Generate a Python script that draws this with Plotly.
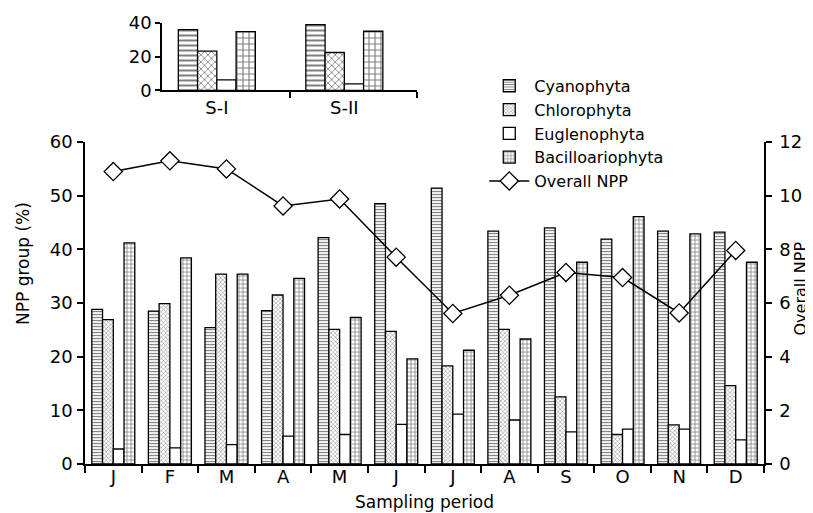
import plotly.graph_objects as go

months = ["J", "F", "M", "A", "M", "J", "J", "A", "S", "O", "N", "D"]
cyanophyta = [28.8, 28.5, 25.4, 28.6, 42.2, 48.5, 51.4, 43.4, 44.0, 41.9, 43.4, 43.2]
chlorophyta = [26.9, 29.9, 35.4, 31.5, 25.1, 24.7, 18.3, 25.1, 12.5, 5.5, 7.3, 14.6]
euglenophyta = [2.8, 3.0, 3.6, 5.2, 5.5, 7.4, 9.3, 8.2, 6.0, 6.5, 6.5, 4.5]
bacillariophyta = [41.2, 38.4, 35.4, 34.6, 27.3, 19.6, 21.2, 23.3, 37.6, 46.1, 42.9, 37.6]
overall_npp = [10.9, 11.3, 11.0, 9.62, 9.88, 7.71, 5.61, 6.29, 7.14, 6.95, 5.63, 7.96]

sites = ["S-I", "S-II"]
site_cyano = [36.1, 39.0]
site_chloro = [23.3, 22.5]
site_eugleno = [6.3, 3.9]
site_bacillo = [34.9, 35.1]

FONT = "DejaVu Sans"
xm = list(range(len(months)))
xs = [i - 0.07 for i in range(len(sites))]

groups = [
    ("Cyanophyta", cyanophyta, site_cyano, dict(shape="-", size=3, solidity=0.4)),
    ("Chlorophyta", chlorophyta, site_chloro, dict(shape="x", size=3, solidity=0.3)),
    ("Euglenophyta", euglenophyta, site_eugleno, dict(shape="")),
    ("Bacilloariophyta", bacillariophyta, site_bacillo, dict(shape="+", size=4, solidity=0.35)),
]

fig = go.Figure()
wm = 0.19
ws = 0.151
for k, (name, vals, svals, pat) in enumerate(groups):
    p = dict(pat, fgcolor="black", bgcolor="white")
    fig.add_trace(go.Bar(
        x=xm, y=vals, name=name, width=wm, offset=-2 * wm + k * wm,
        marker=dict(color="white", line=dict(color="black", width=1.3), pattern=p),
        xaxis="x", yaxis="y", legendrank=k + 1,
    ))
    p2 = dict(p)
    if "size" in p2:
        p2["size"] = p2["size"] + 2
    fig.add_trace(go.Bar(
        x=xs, y=svals, name=name, width=ws, offset=-2 * ws + k * ws,
        marker=dict(color="white", line=dict(color="black", width=1.3), pattern=p2),
        xaxis="x3", yaxis="y3", showlegend=False,
    ))

fig.add_trace(go.Scatter(
    x=xm, y=overall_npp, name="Overall NPP", mode="lines+markers",
    line=dict(color="black", width=1.5),
    marker=dict(symbol="diamond", size=14, color="white", line=dict(color="black", width=1.3)),
    xaxis="x", yaxis="y2", legendrank=5,
))

axis_common = dict(showline=True, linecolor="black", linewidth=1.5, showgrid=False,
                   zeroline=False, tickcolor="black", tickfont=dict(size=18, color="black"))

fig.update_layout(
    width=813, height=513,
    margin=dict(l=77, r=57, t=15, b=57, autoexpand=False),
    paper_bgcolor="white", plot_bgcolor="white",
    font=dict(family=FONT, color="black", size=16),
    barmode="overlay",
    xaxis=dict(
        **axis_common, domain=[0, 1], range=[-0.5, 11.5],
        tickmode="array", tickvals=xm, ticktext=months, ticks="",
        ticklabelstandoff=-4,
        minor=dict(tickmode="array", tickvals=[i - 0.5 for i in range(13)],
                   ticks="outside", ticklen=7, tickcolor="black", tickwidth=1.5),
        title=dict(text="Sampling period", font=dict(size=17), standoff=10),
        anchor="y",
    ),
    yaxis=dict(
        **axis_common, domain=[0, 0.73], range=[0, 60], dtick=10,
        ticks="outside", ticklen=6, tickwidth=1.5, ticklabelstandoff=1,
        anchor="x",
    ),
    yaxis2=dict(
        **axis_common, overlaying="y", side="right", range=[0, 12], dtick=2,
        ticks="outside", ticklen=6, tickwidth=1.5, ticklabelstandoff=4,
        anchor="x",
    ),
    xaxis3=dict(
        **axis_common, domain=[0.1134, 0.489], range=[-0.5, 1.5],
        tickmode="array", tickvals=xs, ticktext=sites, ticks="",
        minor=dict(tickmode="array", tickvals=[0.5, 1.5],
                   ticks="outside", ticklen=6, tickcolor="black", tickwidth=1.5),
        anchor="y3",
    ),
    yaxis3=dict(
        **axis_common, domain=[0.847, 1.0], range=[0, 40], tickvals=[0, 20, 40],
        ticks="outside", ticklen=5, tickwidth=1.5, anchor="x3",
    ),
    legend=dict(x=0.588, y=0.896, xanchor="left", yanchor="top",
                bgcolor="rgba(0,0,0,0)", font=dict(size=16), tracegroupgap=0,
                itemwidth=40),
    annotations=[
        dict(text="NPP group (%)", textangle=-90, xref="paper", yref="paper",
             x=-0.091, y=0.454, xanchor="center", yanchor="middle", showarrow=False,
             font=dict(size=17)),
        dict(text="Overall NPP", textangle=-90, xref="paper", yref="paper",
             x=1.053, y=0.398, xanchor="center", yanchor="middle", showarrow=False,
             font=dict(size=16), borderpad=0),
    ],
)

fig.write_html("out.html")
